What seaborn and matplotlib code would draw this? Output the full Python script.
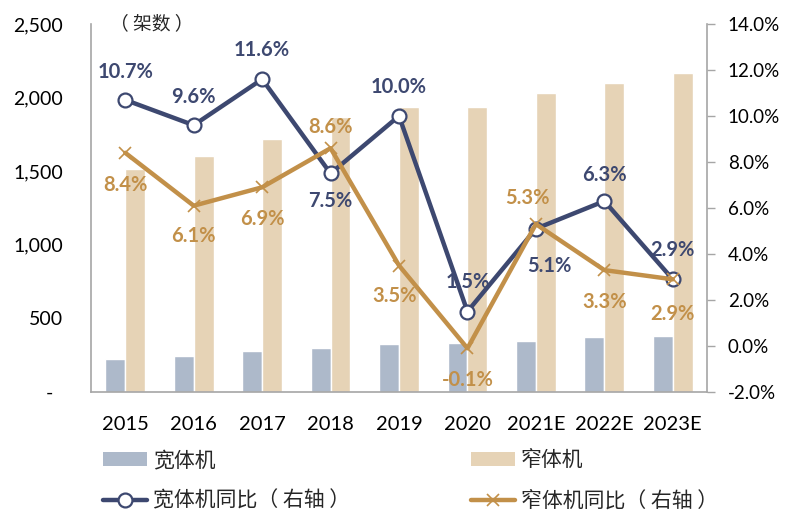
"""Wide-body vs narrow-body aircraft deliveries with yoy growth lines"""

import numpy as np
import matplotlib
matplotlib.use("Agg")
import matplotlib.pyplot as plt
import matplotlib.ticker as mticker
from matplotlib.lines import Line2D
from matplotlib.patches import Patch
import pandas as pd
import seaborn as sns

years = ["2015", "2016", "2017", "2018", "2019", "2020", "2021E", "2022E", "2023E"]
wide_units = [222, 247, 276, 297, 326, 333, 349, 372, 383]
narrow_units = [1513, 1606, 1717, 1866, 1934, 1934, 2029, 2097, 2165]
wide_yoy = [10.7, 9.6, 11.6, 7.5, 10.0, 1.5, 5.1, 6.3, 2.9]
narrow_yoy = [8.4, 6.1, 6.9, 8.6, 3.5, -0.1, 5.3, 3.3, 2.9]

# label offsets in points (dx, dy)
wide_offsets = [(0, 20), (0, 20), (0, 21), (0, -20), (0, 21), (0, 21), (10, -27), (0, 19), (0, 21)]
narrow_offsets = [(0, -23), (0, -22), (0, -23), (0, 15), (-3, -22), (0, -23), (-6, 19), (0, -23), (0, -25)]

WIDE_BAR = "#adb9ca"
NARROW_BAR = "#e6d3b6"
WIDE_LINE = "#3d4870"
NARROW_LINE = "#c29049"
SPINE = "#a6a6a6"

sns.set_theme(style="white")
plt.rcParams["font.family"] = ["Lato", "Noto Sans CJK SC", "DejaVu Sans"]

bars = pd.DataFrame({
    "year": years * 2,
    "units": wide_units + narrow_units,
    "type": ["宽体机"] * len(years) + ["窄体机"] * len(years),
})

fig = plt.figure(figsize=(7.86, 5.18), dpi=100)
ax = fig.add_axes([0.1158, 0.2432, 0.7837, 0.7105])

sns.barplot(data=bars, x="year", y="units", hue="type", order=years,
            palette=[WIDE_BAR, NARROW_BAR], width=0.58, gap=0, ax=ax,
            legend=False, saturation=1)
ax.set_ylim(0, 2500)
ax.set_xlim(-0.5, len(years) - 0.5)
ax.set_yticks(range(0, 2501, 500))
ax.yaxis.set_major_formatter(mticker.FuncFormatter(lambda v, p: "-  " if v == 0 else f"{v:,.0f}"))
ax.set_xlabel("")
ax.set_ylabel("")
ax.tick_params(axis="y", length=0, labelsize=14, pad=20, colors="black")
ax.tick_params(axis="x", which="major", length=0, labelsize=14.5, pad=17, colors="black")
ax.set_xticks(np.arange(len(years) + 1) - 0.5, minor=True)
ax.tick_params(axis="x", which="minor", length=6, width=1, color=SPINE, direction="out")
for side in ["left", "bottom"]:
    ax.spines[side].set_color(SPINE)
    ax.spines[side].set_linewidth(1.2)
ax.spines["top"].set_visible(False)
ax.spines["right"].set_visible(False)

ax2 = ax.twinx()
x_pos = np.arange(len(years))
sns.lineplot(x=x_pos, y=wide_yoy, ax=ax2, color=WIDE_LINE, linewidth=3.2,
             marker="o", markersize=10, markerfacecolor="white",
             markeredgecolor=WIDE_LINE, markeredgewidth=1.6, zorder=3)
sns.lineplot(x=x_pos, y=narrow_yoy, ax=ax2, color=NARROW_LINE, linewidth=3.2,
             marker="x", markersize=8, markeredgecolor=NARROW_LINE,
             markeredgewidth=1.2, zorder=4)
ax2.set_ylim(-2, 14)
ax2.set_yticks(range(-2, 15, 2))
ax2.yaxis.set_major_formatter(mticker.FuncFormatter(lambda v, p: f"{v:.1f}%"))
ax2.tick_params(axis="y", length=6, width=1, color=SPINE, labelsize=13.5, pad=9,
                labelcolor="black", direction="out")
for side in ["top", "left", "bottom"]:
    ax2.spines[side].set_visible(False)
ax2.spines["right"].set_color(SPINE)
ax2.spines["right"].set_linewidth(1.2)
ax2.grid(False)

for i, (v, off) in enumerate(zip(wide_yoy, wide_offsets)):
    ax2.annotate(f"{v:.1f}%", (x_pos[i], v), xytext=off, textcoords="offset points",
                 ha="center", va="center", fontsize=14.5, fontweight="bold",
                 color=WIDE_LINE, zorder=5)
for i, (v, off) in enumerate(zip(narrow_yoy, narrow_offsets)):
    ax2.annotate(f"{v:.1f}%", (x_pos[i], v), xytext=off, textcoords="offset points",
                 ha="center", va="center", fontsize=14.5, fontweight="bold",
                 color=NARROW_LINE, zorder=5)

ax.text(0.031, 1.0, "（ 架数 ）", transform=ax.transAxes, fontsize=13.5,
        ha="left", va="center", family=["Noto Sans CJK SC"])

handles = [
    Patch(facecolor=WIDE_BAR, edgecolor="none"),
    Line2D([], [], color=WIDE_LINE, linewidth=3.2, marker="o", markersize=10,
           markerfacecolor="white", markeredgecolor=WIDE_LINE, markeredgewidth=1.6),
    Patch(facecolor=NARROW_BAR, edgecolor="none"),
    Line2D([], [], color=NARROW_LINE, linewidth=3.2, marker="x", markersize=8,
           markeredgecolor=NARROW_LINE, markeredgewidth=1.2),
]
labels = ["宽体机", "宽体机同比（ 右轴 ）", "窄体机", "窄体机同比（ 右轴 ）"]
fig.legend(handles, labels, loc="upper left", bbox_to_anchor=(0.131, 0.133),
           ncol=2, frameon=False, handlelength=2.1, handleheight=0.62,
           handletextpad=0.3, labelspacing=0.9, columnspacing=5.8,
           borderaxespad=0, borderpad=0, prop={"family": ["Noto Sans CJK SC"], "size": 15})

fig.savefig("out.png", dpi=100)
